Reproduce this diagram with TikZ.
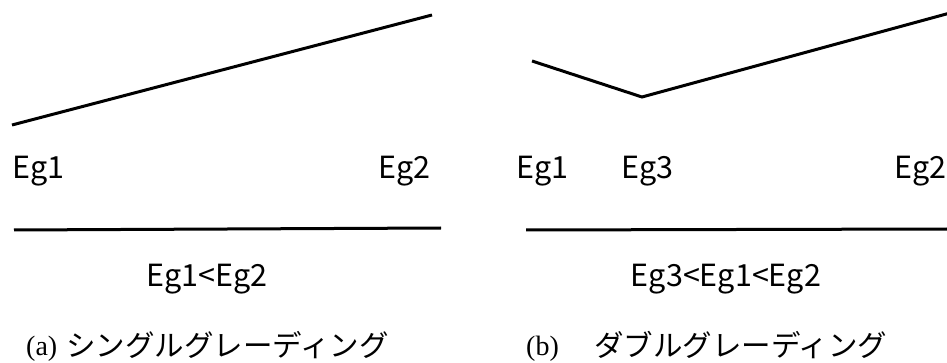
\documentclass[tikz,border=0pt]{standalone}
\usepackage{fontspec}
\setmainfont{Liberation Serif}
\newfontfamily\jpfont{Noto Sans CJK JP}
\begin{document}
\begin{tikzpicture}[x=1pt,y=-1pt,
  band/.style={line width=3pt, line join=miter},
  eglabel/.style={font=\jpfont\fontsize{30.5}{30.5}\selectfont, anchor=base west, inner sep=0pt},
  relabel/.style={font=\jpfont\fontsize{30.5}{30.5}\selectfont, anchor=base, inner sep=0pt},
  captmark/.style={font=\fontsize{28}{28}\selectfont, anchor=base west, inner sep=0pt},
  capttext/.style={font=\jpfont\fontsize{29.5}{29.5}\selectfont, anchor=base west, inner sep=0pt}]
\useasboundingbox (0,0) rectangle (947,363);
% (a) single grading
\coordinate (a1) at (12,125);
\coordinate (a2) at (432,15);
\draw[band] (a1) -- (a2);
\coordinate (ab1) at (14,230);
\coordinate (ab2) at (441,228);
\draw[band] (ab1) -- (ab2);
\node[eglabel] (aEg1) at (12,179) {Eg1};
\node[eglabel] (aEg2) at (378,179) {Eg2};
\node[relabel] (arel) at (207,286) {Eg1<Eg2};
\node[captmark] (amark) at (26,355) {(a)};
\node[capttext] (acap) at (66,356) {シングルグレーディング};
% (b) double grading
\coordinate (b1) at (532,61);
\coordinate (b3) at (642,97);
\coordinate (b2) at (950,13);
\draw[band] (b1) -- (b3) -- (b2);
\coordinate (bb1) at (526,230);
\coordinate (bb2) at (947,229);
\draw[band] (bb1) -- (bb2);
\node[eglabel] (bEg1) at (516,179) {Eg1};
\node[eglabel] (bEg3) at (621,179) {Eg3};
\node[eglabel] (bEg2) at (894,179) {Eg2};
\node[relabel] (brel) at (726,286) {Eg3<Eg1<Eg2};
\node[captmark] (bmark) at (526,355) {(b)};
\node[capttext] (bcap) at (594,356) {ダブルグレーディング};
\end{tikzpicture}
\end{document}
